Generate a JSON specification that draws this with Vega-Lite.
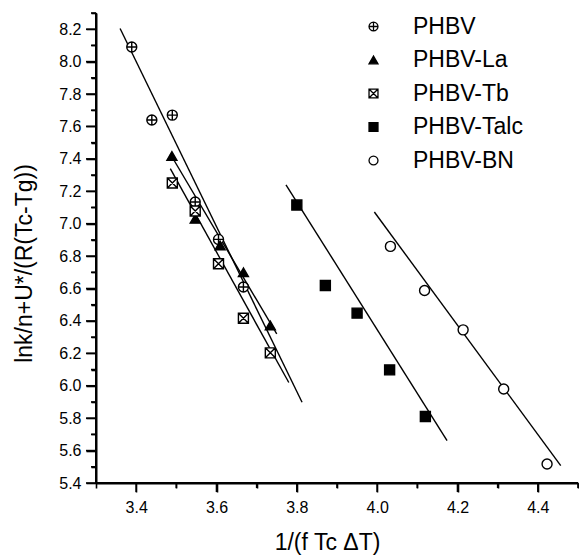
{
  "$schema": "https://vega.github.io/schema/vega-lite/v6.json",
  "width": 482,
  "height": 470,
  "padding": {"left": 13, "top": 9, "right": 0, "bottom": 5},
  "background": "white",
  "config": {
    "view": {"stroke": null, "fill": null, "strokeWidth": 0},
    "font": "Liberation Sans"
  },
  "datasets": {
    "pts": [
      {"series": "PHBV", "x": 3.389, "y": 8.09},
      {"series": "PHBV", "x": 3.439, "y": 7.64},
      {"series": "PHBV", "x": 3.49, "y": 7.67},
      {"series": "PHBV", "x": 3.547, "y": 7.134},
      {"series": "PHBV", "x": 3.605, "y": 6.903},
      {"series": "PHBV", "x": 3.667, "y": 6.609},
      {"series": "PHBV-La", "x": 3.489, "y": 7.418},
      {"series": "PHBV-La", "x": 3.547, "y": 7.03},
      {"series": "PHBV-La", "x": 3.609, "y": 6.866},
      {"series": "PHBV-La", "x": 3.667, "y": 6.7},
      {"series": "PHBV-La", "x": 3.734, "y": 6.372},
      {"series": "PHBV-Tb", "x": 3.49, "y": 7.251},
      {"series": "PHBV-Tb", "x": 3.547, "y": 7.078},
      {"series": "PHBV-Tb", "x": 3.605, "y": 6.753},
      {"series": "PHBV-Tb", "x": 3.667, "y": 6.417},
      {"series": "PHBV-Tb", "x": 3.734, "y": 6.203},
      {"series": "PHBV-Talc", "x": 3.8, "y": 7.115},
      {"series": "PHBV-Talc", "x": 3.871, "y": 6.619},
      {"series": "PHBV-Talc", "x": 3.95, "y": 6.448},
      {"series": "PHBV-Talc", "x": 4.031, "y": 6.098},
      {"series": "PHBV-Talc", "x": 4.12, "y": 5.81},
      {"series": "PHBV-BN", "x": 4.033, "y": 6.86},
      {"series": "PHBV-BN", "x": 4.118, "y": 6.588},
      {"series": "PHBV-BN", "x": 4.214, "y": 6.345},
      {"series": "PHBV-BN", "x": 4.315, "y": 5.98},
      {"series": "PHBV-BN", "x": 4.423, "y": 5.517}
    ],
    "fits": [
      {"series": "PHBV", "x": 3.36, "y": 8.204},
      {"series": "PHBV", "x": 3.813, "y": 5.898},
      {"series": "PHBV-La", "x": 3.485, "y": 7.43},
      {"series": "PHBV-La", "x": 3.75, "y": 6.32},
      {"series": "PHBV-Tb", "x": 3.485, "y": 7.34},
      {"series": "PHBV-Tb", "x": 3.78, "y": 6.02},
      {"series": "PHBV-Talc", "x": 3.773, "y": 7.24},
      {"series": "PHBV-Talc", "x": 4.174, "y": 5.662},
      {"series": "PHBV-BN", "x": 3.993, "y": 7.072},
      {"series": "PHBV-BN", "x": 4.457, "y": 5.507}
    ],
    "frame": [
      {"x": 3.3, "y": 8.3, "o": 0},
      {"x": 3.3, "y": 5.4, "o": 1},
      {"x": 4.5, "y": 5.4, "o": 2}
    ],
    "xmajor": [{"v": 3.4}, {"v": 3.6}, {"v": 3.8}, {"v": 4.0}, {"v": 4.2}, {"v": 4.4}],
    "xminor": [{"v": 3.5}, {"v": 3.7}, {"v": 3.9}, {"v": 4.1}, {"v": 4.3}, {"v": 4.5}],
    "ymajor": [{"v": 5.4}, {"v": 5.6}, {"v": 5.8}, {"v": 6.0}, {"v": 6.2}, {"v": 6.4}, {"v": 6.6}, {"v": 6.8}, {"v": 7.0}, {"v": 7.2}, {"v": 7.4}, {"v": 7.6}, {"v": 7.8}, {"v": 8.0}, {"v": 8.2}],
    "yminor": [{"v": 5.5}, {"v": 5.7}, {"v": 5.9}, {"v": 6.1}, {"v": 6.3}, {"v": 6.5}, {"v": 6.7}, {"v": 6.9}, {"v": 7.1}, {"v": 7.3}, {"v": 7.5}, {"v": 7.7}, {"v": 7.9}, {"v": 8.1}, {"v": 8.3}]
  },
  "resolve": {"axis": {"x": "independent", "y": "independent"}},
  "layer": [
    {
      "data": {"name": "fits"},
      "mark": {"type": "line", "color": "black", "strokeWidth": 1.4},
      "encoding": {
        "x": {
          "field": "x", "type": "quantitative",
          "scale": {"domain": [3.3, 4.5], "nice": false, "zero": false},
          "axis": {
            "orient": "bottom",
            "values": [3.4, 3.6, 3.8, 4.0, 4.2, 4.4],
            "format": ".1f",
            "labelOverlap": false,
            "labelFlush": false,
            "domain": true, "ticks": true,
            "tickSize": 9,
            "grid": false,
            "domainColor": "#000000", "domainWidth": 2,
            "tickColor": "#000000", "tickWidth": 1.6,
            "labelFontSize": 16, "labelColor": "black", "labelPadding": 7,
            "title": "1/(f Tc ΔT)",
            "titleFontSize": 23, "titleFontWeight": "normal", "titleColor": "black",
            "titleX": 231, "titleY": 66, "titleBaseline": "alphabetic"
          }
        },
        "y": {
          "field": "y", "type": "quantitative",
          "scale": {"domain": [5.4, 8.3], "nice": false, "zero": false},
          "axis": {
            "orient": "left",
            "values": [5.4, 5.6, 5.8, 6.0, 6.2, 6.4, 6.6, 6.8, 7.0, 7.2, 7.4, 7.6, 7.8, 8.0, 8.2],
            "format": ".1f",
            "labelOverlap": false,
            "labelFlush": false,
            "domain": true, "ticks": true,
            "tickSize": 10,
            "grid": false,
            "domainColor": "#000000", "domainWidth": 2,
            "tickColor": "#000000", "tickWidth": 1.6,
            "labelFontSize": 16, "labelColor": "black", "labelPadding": 5,
            "title": "lnk/n+U*/(R(Tc-Tg))",
            "titleFontSize": 23, "titleFontWeight": "normal", "titleColor": "black",
            "titleX": -65, "titleY": 250, "titleBaseline": "alphabetic"
          }
        },
        "detail": {"field": "series"}
      }
    },
    {
      "data": {"name": "pts"},
      "mark": {"type": "point", "filled": true, "stroke": "black", "strokeWidth": 1.4, "opacity": 1, "size": 100},
      "encoding": {
        "x": {"field": "x", "type": "quantitative", "axis": null},
        "y": {"field": "y", "type": "quantitative", "axis": null},
        "shape": {
          "field": "series", "type": "nominal",
          "scale": {
            "domain": ["PHBV", "PHBV-La", "PHBV-Tb", "PHBV-Talc", "PHBV-BN"],
            "range": [
              "M-1,0A1,1,0,1,1,1,0A1,1,0,1,1,-1,0Z M-1,0L1,0 M0,-1L0,1",
              "triangle-up",
              "M-1,-1L1,-1L1,1L-1,1Z M-1,-1L1,1 M1,-1L-1,1",
              "square",
              "circle"
            ]
          },
          "legend": {
            "orient": "none", "legendX": 266, "legendY": 2, "title": null, "padding": 0,
            "labelFontSize": 23, "labelColor": "black", "labelFont": "Liberation Sans",
            "symbolSize": 80, "symbolStrokeWidth": 1.3,
            "rowPadding": 9.5, "labelOffset": 28
          }
        },
        "fill": {
          "field": "series", "type": "nominal",
          "scale": {
            "domain": ["PHBV", "PHBV-La", "PHBV-Tb", "PHBV-Talc", "PHBV-BN"],
            "range": ["white", "black", "white", "black", "white"]
          },
          "legend": {
            "orient": "none", "legendX": 266, "legendY": 2, "title": null, "padding": 0,
            "labelFontSize": 23, "labelColor": "black", "labelFont": "Liberation Sans",
            "symbolSize": 80, "symbolStrokeWidth": 1.3,
            "rowPadding": 9.5, "labelOffset": 28
          }
        },
        "stroke": {
          "field": "series", "type": "nominal",
          "scale": {
            "domain": ["PHBV", "PHBV-La", "PHBV-Tb", "PHBV-Talc", "PHBV-BN"],
            "range": ["black", "black", "black", "black", "black"]
          },
          "legend": {
            "orient": "none", "legendX": 266, "legendY": 2, "title": null, "padding": 0,
            "labelFontSize": 23, "labelColor": "black", "labelFont": "Liberation Sans",
            "symbolSize": 80, "symbolStrokeWidth": 1.3,
            "rowPadding": 9.5, "labelOffset": 28
          }
        }
      }
    },
    {
      "data": {"name": "xmajor"},
      "mark": {"type": "tick", "orient": "vertical", "color": "black", "opacity": 1, "thickness": 1.6, "size": 9, "yOffset": 4.5, "clip": false},
      "encoding": {
        "x": {"field": "v", "type": "quantitative", "axis": null},
        "y": {"datum": 5.4, "type": "quantitative", "axis": null}
      }
    },
    {
      "data": {"name": "xminor"},
      "mark": {"type": "tick", "orient": "vertical", "color": "black", "opacity": 1, "thickness": 1.6, "size": 5, "yOffset": 2.5, "clip": false},
      "encoding": {
        "x": {
          "field": "v", "type": "quantitative",
          "axis": {
            "orient": "bottom",
            "values": [3.3, 3.5, 3.7, 3.9, 4.1, 4.3, 4.5],
            "labels": false, "domain": false, "grid": false, "title": null, "ticks": true,
            "tickSize": 5, "tickColor": "#000000", "tickWidth": 1.6
          }
        },
        "y": {"datum": 5.4, "type": "quantitative", "axis": null}
      }
    },
    {
      "data": {"name": "ymajor"},
      "mark": {"type": "tick", "orient": "horizontal", "color": "black", "opacity": 1, "thickness": 1.6, "size": 10, "xOffset": -5, "clip": false},
      "encoding": {
        "y": {"field": "v", "type": "quantitative", "axis": null},
        "x": {"datum": 3.3, "type": "quantitative", "axis": null}
      }
    },
    {
      "data": {"name": "yminor"},
      "mark": {"type": "tick", "orient": "horizontal", "color": "black", "opacity": 1, "thickness": 1.6, "size": 5, "xOffset": -2.5, "clip": false},
      "encoding": {
        "y": {
          "field": "v", "type": "quantitative",
          "axis": {
            "orient": "left",
            "values": [5.5, 5.7, 5.9, 6.1, 6.3, 6.5, 6.7, 6.9, 7.1, 7.3, 7.5, 7.7, 7.9, 8.1, 8.3],
            "labels": false, "domain": false, "grid": false, "title": null, "ticks": true,
            "tickSize": 5, "tickColor": "#000000", "tickWidth": 1.6
          }
        },
        "x": {"datum": 3.3, "type": "quantitative", "axis": null}
      }
    },
    {
      "data": {"name": "frame"},
      "mark": {"type": "line", "color": "black", "strokeWidth": 2, "clip": false},
      "encoding": {
        "x": {"field": "x", "type": "quantitative", "axis": null},
        "y": {"field": "y", "type": "quantitative", "axis": null},
        "order": {"field": "o"}
      }
    }
  ]
}
